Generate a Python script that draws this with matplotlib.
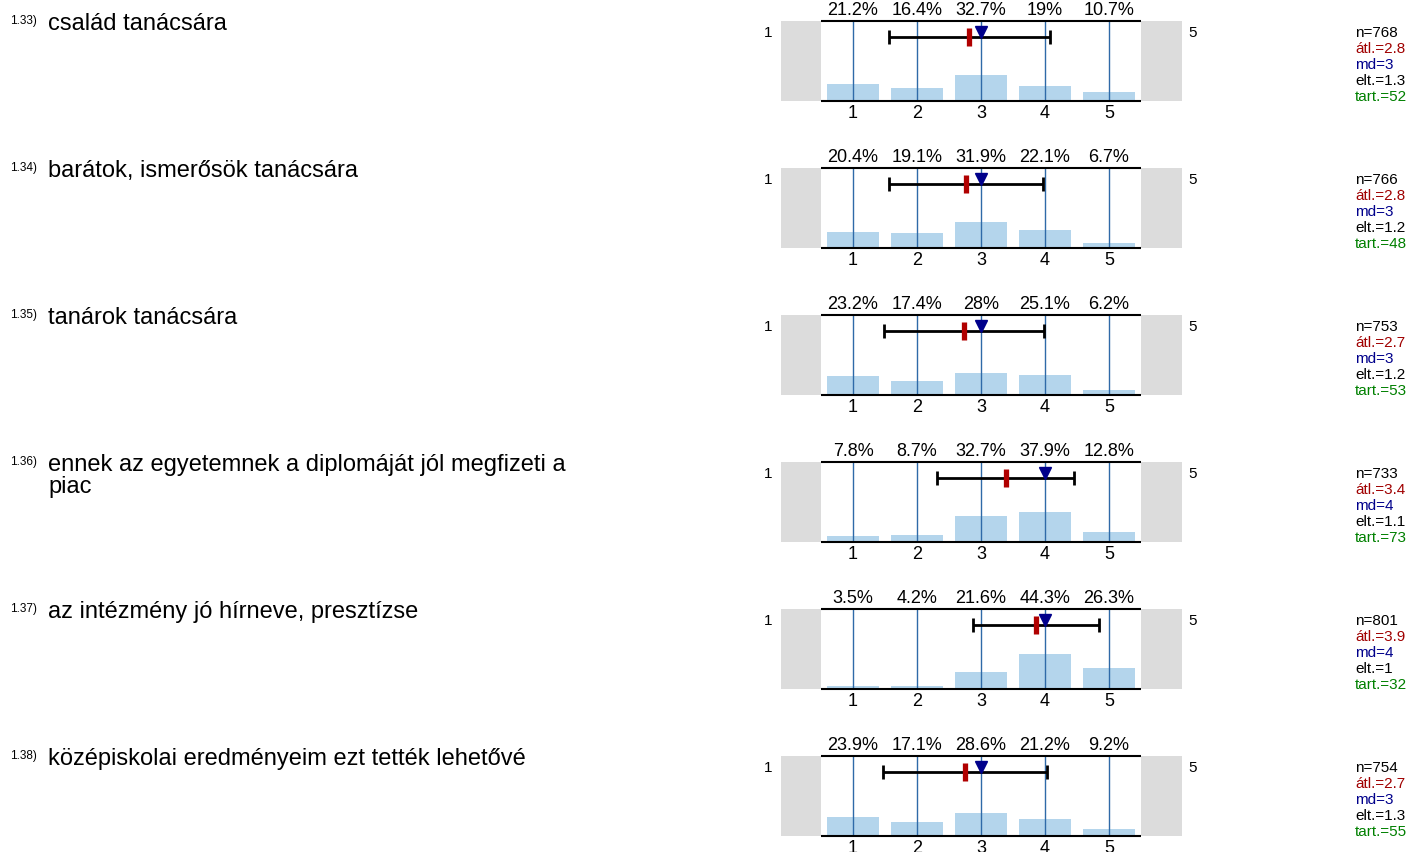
import numpy as np
import matplotlib
matplotlib.use('Agg')
import matplotlib.pyplot as plt

plt.rcParams['font.family'] = ['Liberation Sans', 'DejaVu Sans']

W, H = 1413, 852

item_ids = ['1.33)', '1.34)', '1.35)', '1.36)', '1.37)', '1.38)']
questions = [
    'család tanácsára',
    'barátok, ismerősök tanácsára',
    'tanárok tanácsára',
    'ennek az egyetemnek a diplomáját jól megfizeti a\npiac',
    'az intézmény jó hírneve, presztízse',
    'középiskolai eredményeim ezt tették lehetővé',
]
categories = [1, 2, 3, 4, 5]
percents = [
    [21.2, 16.4, 32.7, 19.0, 10.7],
    [20.4, 19.1, 31.9, 22.1, 6.7],
    [23.2, 17.4, 28.0, 25.1, 6.2],
    [7.8, 8.7, 32.7, 37.9, 12.8],
    [3.5, 4.2, 21.6, 44.3, 26.3],
    [23.9, 17.1, 28.6, 21.2, 9.2],
]
means = [2.82, 2.77, 2.74, 3.39, 3.86, 2.75]
sds = [1.26, 1.20, 1.25, 1.07, 0.98, 1.28]
medians = [3, 3, 3, 4, 4, 3]
n_vals = [768, 766, 753, 733, 801, 754]
atl_vals = [2.8, 2.8, 2.7, 3.4, 3.9, 2.7]
md_vals = [3, 3, 3, 4, 4, 3]
elt_vals = [1.3, 1.2, 1.2, 1.1, 1, 1.3]
tart_vals = [52, 48, 53, 73, 32, 55]


def fx(x):
    return x / W


def fy(y):
    return 1 - y / H


fig = plt.figure(figsize=(W / 100, H / 100), dpi=100)

step = 147
for i in range(len(questions)):
    top = 21 + step * i
    bottom = top + 80

    # left side texts
    fig.text(fx(10), fy(24 + step * i), item_ids[i], fontsize=8.5, va='baseline')
    fig.text(fx(48), fy(13 + step * i), questions[i], fontsize=17, va='top',
             linespacing=1.0)

    ax = fig.add_axes([fx(781), fy(bottom), fx(1182) - fx(781), (bottom - top) / H])
    ax.set_xlim(-0.125, 6.14)
    ax.set_ylim(0, 1)
    ax.axis('off')

    ax.axvspan(-0.125, 0.5, color='#dcdcdc', lw=0)
    ax.axvspan(5.5, 6.14, color='#dcdcdc', lw=0)

    p = np.array(percents[i])
    ax.bar(categories, p / 100, width=0.81, color='#b4d5ec', zorder=2)
    ax.vlines(categories, 0, 1, color='#2f6aa8', lw=1, zorder=3)
    ax.hlines([0, 1], 0.5, 5.5, color='black', lw=1.5, zorder=4, clip_on=False)

    ax.errorbar(means[i], 0.8, xerr=sds[i], fmt='none', ecolor='black',
                elinewidth=2, capsize=5, capthick=2, zorder=5)
    ax.plot(means[i], 0.8, marker='|', markersize=12.5, mew=3.8,
            color='#b00000', zorder=6)
    ax.plot(medians[i], 0.862, marker='v', markersize=8,
            color='#00008b', lw=0, zorder=7)

    for c, v in zip(categories, p):
        ax.annotate('{:g}%'.format(v), (c, 1), xytext=(0, 1.5),
                    textcoords='offset points', ha='center', va='bottom',
                    fontsize=13, annotation_clip=False)
        ax.annotate(str(c), (c, 0), xytext=(0, -3),
                    textcoords='offset points', ha='center', va='top',
                    fontsize=13, annotation_clip=False)

    fig.text(fx(768), fy(top + 12), '1', fontsize=11, ha='center', va='center')
    fig.text(fx(1193), fy(top + 12), '5', fontsize=11, ha='center', va='center')

    stats = [
        ('n={}'.format(n_vals[i]), 'black'),
        ('átl.={:g}'.format(atl_vals[i]), '#a00000'),
        ('md={}'.format(md_vals[i]), '#00008b'),
        ('elt.={:g}'.format(elt_vals[i]), 'black'),
        ('tart.={}'.format(tart_vals[i]), '#008000'),
    ]
    for k, (s, col) in enumerate(stats):
        fig.text(fx(1355), fy(top + 12 + 16 * k), s, fontsize=11,
                 color=col, va='center')

fig.savefig('out.png', dpi=100)
